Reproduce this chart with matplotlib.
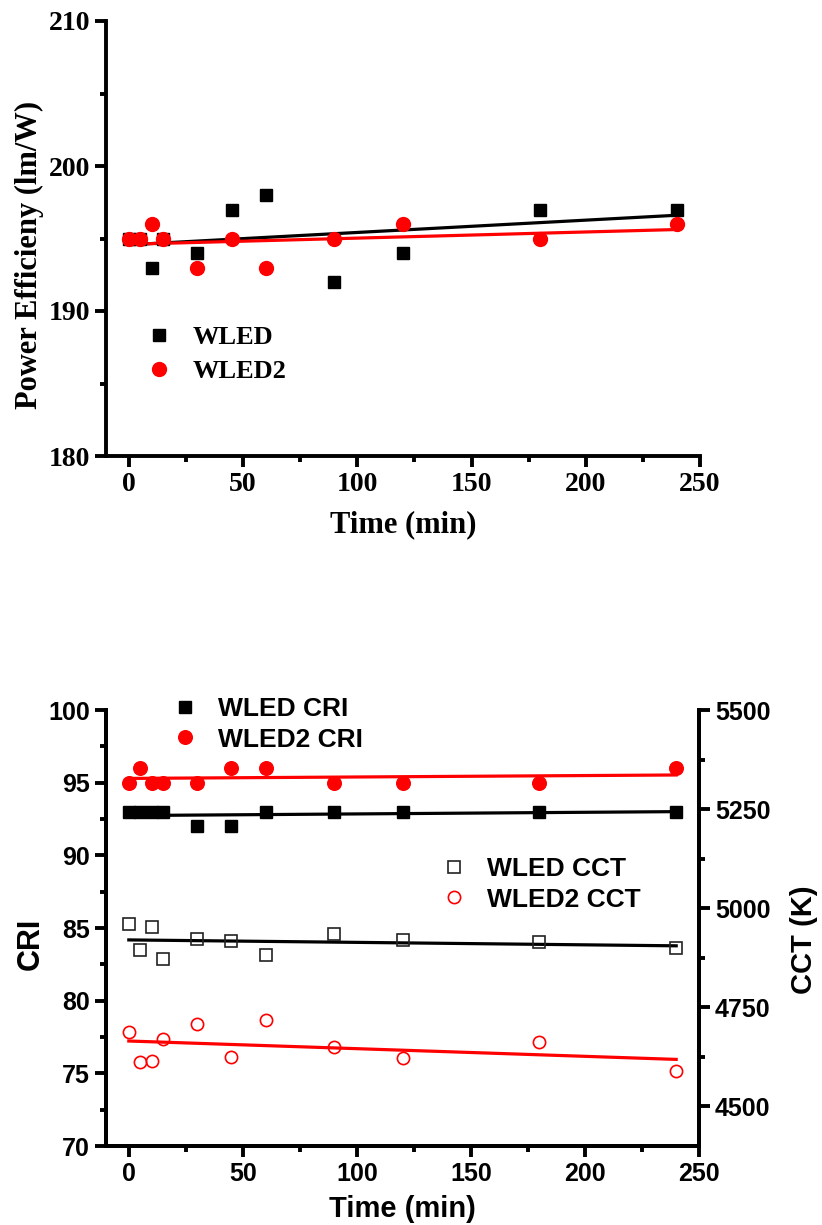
import numpy as np
import matplotlib
matplotlib.use("Agg")
import matplotlib.pyplot as plt
from matplotlib.ticker import MultipleLocator, AutoMinorLocator

# ---- data ----
time_min = [0, 5, 10, 15, 30, 45, 60, 90, 120, 180, 240]

pe_wled = [195, 195, 193, 195, 194, 197, 198, 192, 194, 197, 197]
pe_wled2 = [195, 195, 196, 195, 193, 195, 193, 195, 196, 195, 196]

cri_wled = [93, 93, 93, 93, 92, 92, 93, 93, 93, 93, 93]
cri_wled2 = [95, 96, 95, 95, 95, 96, 96, 95, 95, 95, 96]

cct_wled = [4960, 4895, 4952, 4873, 4922, 4917, 4882, 4935, 4920, 4915, 4899]
cct_wled2 = [4687, 4613, 4614, 4670, 4708, 4625, 4718, 4651, 4623, 4663, 4588]

x_ticks = [0, 50, 100, 150, 200, 250]

W, H = 822, 1225
fig = plt.figure(figsize=(W / 100, H / 100), dpi=100)


def fig_rect(left, top, right, bottom):
    return [left / W, 1 - bottom / H, (right - left) / W, (bottom - top) / H]


def fit_line(ax, x, y, color):
    k, b = np.polyfit(x, y, 1)
    xs = np.array([min(x), max(x)])
    ax.plot(xs, k * xs + b, color=color, lw=2.3, zorder=2)


def style_axis(ax, fontfamily, size):
    for s in ax.spines.values():
        s.set_linewidth(2.8)
    ax.tick_params(which="major", direction="out", length=8, width=2.8,
                   labelsize=size)
    ax.tick_params(which="minor", direction="out", length=4, width=2.8)
    for lab in ax.get_xticklabels() + ax.get_yticklabels():
        lab.set_fontfamily(fontfamily)
        lab.set_fontweight("bold")


def place_legend(ax, handles, x_px, y_px, prop, spacing):
    return ax.legend(handles=handles, loc="upper left",
                     bbox_to_anchor=(x_px / W, 1 - y_px / H),
                     bbox_transform=fig.transFigure, frameon=False,
                     borderpad=0, borderaxespad=0, handlelength=1.0,
                     handletextpad=0.75, labelspacing=spacing, prop=prop)


# ---------------- top panel: power efficiency ----------------
serif = "Liberation Serif"
ax1 = fig.add_axes(fig_rect(106, 21, 700, 456))
ax1.spines["top"].set_visible(False)
ax1.spines["right"].set_visible(False)

fit_line(ax1, time_min, pe_wled, "black")
fit_line(ax1, time_min, pe_wled2, "red")
p1, = ax1.plot(time_min, pe_wled, "s", color="black", ms=9.2, ls="none",
               label="WLED", zorder=3)
p2, = ax1.plot(time_min, pe_wled2, "o", color="red", ms=10, ls="none",
               label="WLED2", zorder=3)

ax1.set_xlim(-10, 250)
ax1.set_ylim(180, 210)
ax1.set_xticks(x_ticks)
ax1.xaxis.set_minor_locator(AutoMinorLocator(2))
ax1.yaxis.set_major_locator(MultipleLocator(10))
ax1.yaxis.set_minor_locator(AutoMinorLocator(2))
style_axis(ax1, serif, 20)

ax1.set_xlabel("Time (min)", fontfamily=serif, fontweight="bold", fontsize=22)
ax1.set_ylabel("Power Efficieny (lm/W)", fontfamily=serif,
               fontweight="bold", fontsize=22)
ax1.xaxis.set_label_coords(0.5, (456 - 510) / 435)
ax1.yaxis.set_label_coords((44 - 106) / 594, (456 - 255) / 435)

place_legend(ax1, [p1, p2], 146, 326,
             {"family": serif, "weight": "bold", "size": 19}, 0.38)

# ---------------- bottom panel: CRI and CCT ----------------
sans = "Liberation Sans"
ax2 = fig.add_axes(fig_rect(106, 710, 699, 1146))
ax2.spines["top"].set_visible(False)
ax3 = ax2.twinx()
ax3.spines["top"].set_visible(False)

fit_line(ax2, time_min, cri_wled, "black")
fit_line(ax2, time_min, cri_wled2, "red")
h1, = ax2.plot(time_min, cri_wled, "s", color="black", ms=8.8, ls="none",
               label="WLED CRI", zorder=3)
h2, = ax2.plot(time_min, cri_wled2, "o", color="red", ms=9.8, ls="none",
               label="WLED2 CRI", zorder=3)

fit_line(ax3, time_min, cct_wled, "black")
fit_line(ax3, time_min, cct_wled2, "red")
h3, = ax3.plot(time_min, cct_wled, "s", mfc="none", mec="#222222", mew=1.2,
               ms=8.4, ls="none", label="WLED CCT", zorder=3)
h4, = ax3.plot(time_min, cct_wled2, "o", mfc="none", mec="red", mew=1.2,
               ms=8.8, ls="none", label="WLED2 CCT", zorder=3)

ax2.set_xlim(-10, 250)
ax2.set_ylim(70, 100)
ax3.set_ylim(4400, 5500)
ax2.set_xticks(x_ticks)
ax2.xaxis.set_minor_locator(AutoMinorLocator(2))
ax2.yaxis.set_major_locator(MultipleLocator(5))
ax2.yaxis.set_minor_locator(AutoMinorLocator(2))
ax3.set_yticks([4500, 4750, 5000, 5250, 5500])
ax3.yaxis.set_minor_locator(AutoMinorLocator(2))
style_axis(ax2, sans, 18)
style_axis(ax3, sans, 18)

ax2.set_xlabel("Time (min)", fontfamily=sans, fontweight="bold", fontsize=21)
ax2.set_ylabel("CRI", fontfamily=sans, fontweight="bold", fontsize=22)
ax3.set_ylabel("CCT (K)", fontfamily=sans, fontweight="bold", fontsize=21)
ax2.xaxis.set_label_coords(0.5, (1146 - 1195) / 436)
ax2.yaxis.set_label_coords((46 - 106) / 593, (1146 - 944) / 436)
ax3.yaxis.set_label_coords((790 - 106) / 593, (1146 - 940) / 436)

legend_prop = {"family": sans, "weight": "bold", "size": 19}
leg_cct = place_legend(ax3, [h3, h4], 441, 857, legend_prop, 0.25)
ax3.add_artist(leg_cct)
place_legend(ax3, [h1, h2], 172, 697, legend_prop, 0.25)

fig.savefig("out.png", dpi=100)
